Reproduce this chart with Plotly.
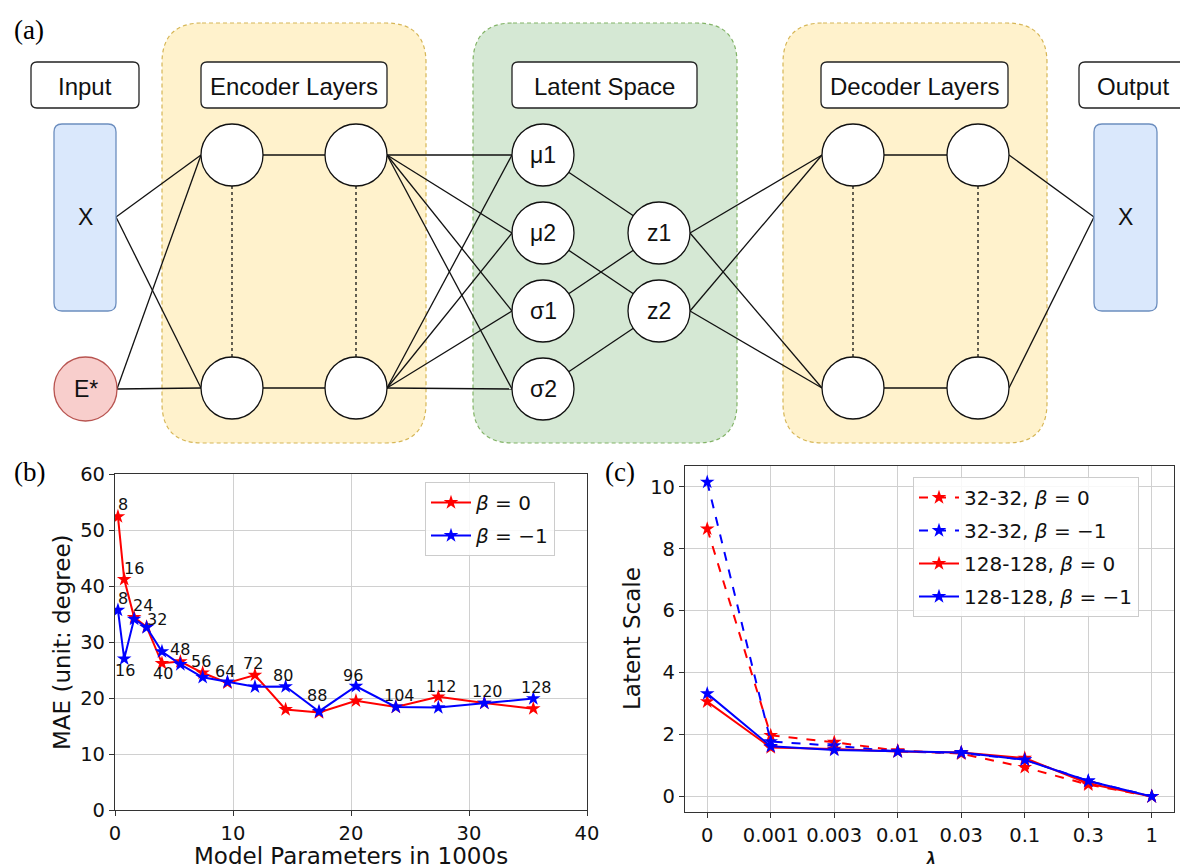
import plotly.graph_objects as go

W, H = 1180, 864

# ---------------- data: panel (b) ----------------
hidden_sizes = [8, 16, 24, 32, 40, 48, 56, 64, 72, 80, 88, 96, 104, 112, 120, 128]
params_k = [0.25, 0.78, 1.62, 2.68, 3.98, 5.54, 7.43, 9.53, 11.86, 14.46, 17.29, 20.42, 23.8, 27.4, 31.3, 35.45]
mae_beta0 = [52.4, 41.2, 34.4, 32.7, 26.2, 26.5, 24.5, 22.7, 24.1, 17.95, 17.4, 19.5, 18.4, 20.2, 19.1, 18.1]
mae_beta_m1 = [35.7, 27.0, 34.1, 32.6, 28.3, 26.0, 23.7, 22.9, 22.0, 22.05, 17.6, 22.1, 18.4, 18.3, 19.1, 19.9]

# point labels in panel (b): text, placement (data units)
pt_label_text = ["8", "16", "8", "16", "24", "32", "40", "48", "56", "64", "72", "80",
                 "88", "96", "104", "112", "120", "128"]
pt_label_x = [0.65, 1.61, 0.65, 0.85, 2.35, 3.55, 4.04, 5.5, 7.26, 9.32, 11.67, 14.26,
              17.15, 20.2, 24.1, 27.7, 31.55, 35.7]
pt_label_y = [54.5, 43.2, 37.8, 25.0, 36.6, 34.0, 24.3, 28.6, 26.5, 24.8, 26.1, 24.1,
              20.5, 24.1, 20.4, 22.1, 21.1, 21.8]

# ---------------- data: panel (c) ----------------
lambdas = ["0", "0.001", "0.003", "0.01", "0.03", "0.1", "0.3", "1"]
scale_32_b0 = [8.64, 1.97, 1.75, 1.48, 1.38, 0.94, 0.38, 0.0]
scale_32_bm1 = [10.15, 1.77, 1.64, 1.45, 1.40, 1.19, 0.50, 0.0]
scale_128_b0 = [3.06, 1.58, 1.53, 1.45, 1.42, 1.24, 0.42, 0.0]
scale_128_bm1 = [3.32, 1.62, 1.50, 1.45, 1.42, 1.18, 0.50, 0.0]

RED = "#ff0000"
BLUE = "#0000ff"
FONT = "DejaVu Sans"

fig = go.Figure()

# panel (b)
fig.add_trace(go.Scatter(x=params_k, y=mae_beta0, mode="lines+markers", name="<i>β</i> = 0",
                         line=dict(color=RED, width=2), marker=dict(symbol="star", size=11, color=RED),
                         xaxis="x", yaxis="y", legend="legend", legendgroup="b1"))
fig.add_trace(go.Scatter(x=params_k, y=mae_beta_m1, mode="lines+markers", name="<i>β</i> = −1",
                         line=dict(color=BLUE, width=2), marker=dict(symbol="star", size=11, color=BLUE),
                         xaxis="x", yaxis="y", legend="legend", legendgroup="b2"))

# panel (c)
series_c = [
    (scale_32_b0, "32-32, <i>β</i> = 0", RED, "dash"),
    (scale_32_bm1, "32-32, <i>β</i> = −1", BLUE, "dash"),
    (scale_128_b0, "128-128, <i>β</i> = 0", RED, "solid"),
    (scale_128_bm1, "128-128, <i>β</i> = −1", BLUE, "solid"),
]
for i, (vals, nm, col, dsh) in enumerate(series_c):
    fig.add_trace(go.Scatter(x=lambdas, y=vals, mode="lines+markers", name=nm,
                             line=dict(color=col, width=2, dash=dsh),
                             marker=dict(symbol="star", size=11, color=col),
                             xaxis="x2", yaxis="y2", legend="legend2", legendgroup=f"c{i}"))

# empty trace to realise the diagram canvas axes
fig.add_trace(go.Scatter(x=[], y=[], xaxis="x3", yaxis="y3", showlegend=False, hoverinfo="skip"))

# ---------------- axes ----------------
axis_common = dict(showline=True, linecolor="#333333", linewidth=1.2, mirror=True,
                   ticks="outside", ticklen=5, tickwidth=1.2, tickcolor="#333333",
                   showgrid=True, gridcolor="#d0d0d0", gridwidth=1.3, zeroline=False, automargin=False,
                   tickfont=dict(family=FONT, size=19.5, color="#111111"))

b_x0, b_x1, b_y0, b_y1 = 115, 587, 474, 810
c_x0, c_x1, c_y0, c_y1 = 685, 1174, 466, 812

fig.update_layout(
    xaxis=dict(domain=[b_x0 / W, b_x1 / W], anchor="y", range=[0, 40], tickvals=[0, 10, 20, 30, 40], **axis_common),
    yaxis=dict(domain=[1 - b_y1 / H, 1 - b_y0 / H], anchor="x", range=[0, 60], tickvals=[0, 10, 20, 30, 40, 50, 60], **axis_common),
    xaxis2=dict(domain=[c_x0 / W, c_x1 / W], anchor="y2", type="category", range=[-0.35, 7.35], **axis_common),
    yaxis2=dict(domain=[1 - c_y1 / H, 1 - c_y0 / H], anchor="x2", range=[-0.503, 10.67], tickvals=[0, 2, 4, 6, 8, 10], **axis_common),
    xaxis3=dict(domain=[0, 1], anchor="y3", range=[0, W], visible=False, fixedrange=True, automargin=False),
    yaxis3=dict(domain=[0, 1], anchor="x3", range=[H, 0], visible=False, fixedrange=True, automargin=False),
)

# ---------------- legends ----------------
leg_common = dict(bgcolor="rgba(255,255,255,0.85)", bordercolor="#cccccc", borderwidth=1,
                  font=dict(family=FONT, size=20, color="#111111"), xanchor="left", yanchor="top",
                  tracegroupgap=4, itemwidth=40)
fig.update_layout(
    legend=dict(x=425 / W, y=1 - 482 / H, **leg_common),
    legend2=dict(x=913 / W, y=1 - 477 / H, **leg_common),
)

annotations = []
# point labels panel (b)
for t, lx, ly in zip(pt_label_text, pt_label_x, pt_label_y):
    annotations.append(dict(x=lx, y=ly, xref="x", yref="y", text=t, showarrow=False,
                            font=dict(family=FONT, size=16, color="#111111")))

# axis titles
annotations += [
    dict(x=(b_x0 + b_x1) / 2, y=856, xref="x3", yref="y3", text="Model Parameters in 1000s", showarrow=False,
         font=dict(family=FONT, size=23, color="#111111")),
    dict(x=62, y=(b_y0 + b_y1) / 2, xref="x3", yref="y3", text="MAE (unit: degree)", showarrow=False, textangle=-90,
         font=dict(family=FONT, size=23, color="#111111")),
    dict(x=(c_x0 + c_x1) / 2, y=861, xref="x3", yref="y3", text="<i>λ</i>", showarrow=False,
         font=dict(family=FONT, size=23, color="#111111")),
    dict(x=632, y=639, xref="x3", yref="y3", text="Latent Scale", showarrow=False, textangle=-90,
         font=dict(family=FONT, size=23, color="#111111")),
]
# panel letters
for t, lx, ly in [("(a)", 29, 30), ("(b)", 29, 472), ("(c)", 620, 472)]:
    annotations.append(dict(x=lx, y=ly, xref="x3", yref="y3", text=t, showarrow=False,
                            font=dict(family="Liberation Serif", size=27, color="#000000")))

# ---------------- diagram (a) ----------------
shapes = []


def rrect(x0, y0, x1, y1, r, fill, line, dash="solid", lw=1.3):
    p = (f"M{x0 + r},{y0} L{x1 - r},{y0} Q{x1},{y0} {x1},{y0 + r} L{x1},{y1 - r} Q{x1},{y1} {x1 - r},{y1} "
         f"L{x0 + r},{y1} Q{x0},{y1} {x0},{y1 - r} L{x0},{y0 + r} Q{x0},{y0} {x0 + r},{y0} Z")
    shapes.append(dict(type="path", path=p, xref="x3", yref="y3", fillcolor=fill,
                       line=dict(color=line, width=lw, dash=dash), layer="above"))


def seg(p, q, dash="solid", lw=1.3):
    shapes.append(dict(type="line", x0=p[0], y0=p[1], x1=q[0], y1=q[1], xref="x3", yref="y3",
                       line=dict(color="#111111", width=lw, dash=dash), layer="above"))


def circ(c, r, fill="#ffffff", line="#111111", ry=None):
    ry = r if ry is None else ry
    shapes.append(dict(type="circle", x0=c[0] - r, x1=c[0] + r, y0=c[1] - ry, y1=c[1] + ry, xref="x3", yref="y3",
                       fillcolor=fill, line=dict(color=line, width=1.3), layer="above"))


# background regions
rrect(162, 23, 426, 443, 40, "#fff2cc", "#d6b656", dash="4px,3px", lw=1.2)
rrect(473, 23, 737, 443, 40, "#d5e8d4", "#82b366", dash="4px,3px", lw=1.2)
rrect(783, 23, 1047, 443, 40, "#fff2cc", "#d6b656", dash="4px,3px", lw=1.2)

R = 31
enc = [(232, 155), (356, 155), (232, 388), (356, 388)]
lat = [(543, 155), (543, 233), (543, 311), (543, 389)]
zn = [(659, 233), (659, 311)]
dec = [(853, 155), (978, 155), (853, 388), (978, 388)]
x_in = (116, 217)
e_in = (117, 389)
x_out = (1094, 217)

# edges
for src in (x_in, e_in):
    seg(src, (enc[0][0] - R, enc[0][1]))
    seg(src, (enc[2][0] - R, enc[2][1]))
seg((enc[0][0] + R, 155), (enc[1][0] - R, 155))
seg((enc[2][0] + R, 388), (enc[3][0] - R, 388))
seg((enc[0][0], 155 + R), (enc[2][0], 388 - R), dash="3px,3px")
seg((enc[1][0], 155 + R), (enc[3][0], 388 - R), dash="3px,3px")
for src in (enc[1], enc[3]):
    for dst in lat:
        seg((src[0] + R, src[1]), (dst[0] - R, dst[1]))
for a, b in [(0, 0), (1, 1), (2, 0), (3, 1)]:
    seg(lat[a], zn[b])
for z in zn:
    seg((z[0] + R, z[1]), (dec[0][0] - R, dec[0][1]))
    seg((z[0] + R, z[1]), (dec[2][0] - R, dec[2][1]))
seg((dec[0][0] + R, 155), (dec[1][0] - R, 155))
seg((dec[2][0] + R, 388), (dec[3][0] - R, 388))
seg((dec[0][0], 155 + R), (dec[2][0], 388 - R), dash="3px,3px")
seg((dec[1][0], 155 + R), (dec[3][0], 388 - R), dash="3px,3px")
seg((dec[1][0] + R, 155), x_out)
seg((dec[3][0] + R, 388), x_out)

# boxes
rrect(31, 62, 139, 108, 6, "#ffffff", "#222222")
rrect(201, 62, 387, 108, 6, "#ffffff", "#222222")
rrect(512, 62, 697, 108, 6, "#ffffff", "#222222")
rrect(821, 62, 1008, 108, 6, "#ffffff", "#222222")
rrect(1079, 62, 1187, 108, 6, "#ffffff", "#222222")
rrect(54, 124, 116, 311, 8, "#dae8fc", "#6c8ebf")
rrect(1094, 124, 1157, 311, 8, "#dae8fc", "#6c8ebf")
circ((85.5, 389), 31.5, fill="#f8cecc", line="#b85450", ry=32)

for c in enc + lat + zn + dec:
    circ(c, R)

lab_font = dict(family="Liberation Sans", size=24, color="#111111")
node_font = dict(family="Liberation Sans", size=23, color="#111111")
for t, lx, ly in [("Input", 85, 86), ("Encoder Layers", 294, 86), ("Latent Space", 604.5, 86),
                  ("Decoder Layers", 914.5, 86), ("Output", 1133, 86)]:
    annotations.append(dict(x=lx, y=ly, xref="x3", yref="y3", text=t, showarrow=False, font=lab_font))
for t, c in [("X", (85, 217)), ("X", (1125.5, 217)), ("E*", (86, 389)),
             ("μ1", lat[0]), ("μ2", lat[1]), ("σ1", lat[2]), ("σ2", lat[3]), ("z1", zn[0]), ("z2", zn[1])]:
    annotations.append(dict(x=c[0], y=c[1], xref="x3", yref="y3", text=t, showarrow=False, font=node_font))

fig.update_layout(
    width=W, height=H, autosize=False,
    margin=dict(l=0, r=0, t=0, b=0, pad=0, autoexpand=False),
    paper_bgcolor="#ffffff", plot_bgcolor="rgba(0,0,0,0)",
    shapes=shapes, annotations=annotations,
    font=dict(family=FONT),
)

fig.write_html("out.html", config={"displayModeBar": False},
               post_script="document.body.style.margin='0';document.body.style.padding='0';"
                           "document.body.style.overflow='hidden';")
